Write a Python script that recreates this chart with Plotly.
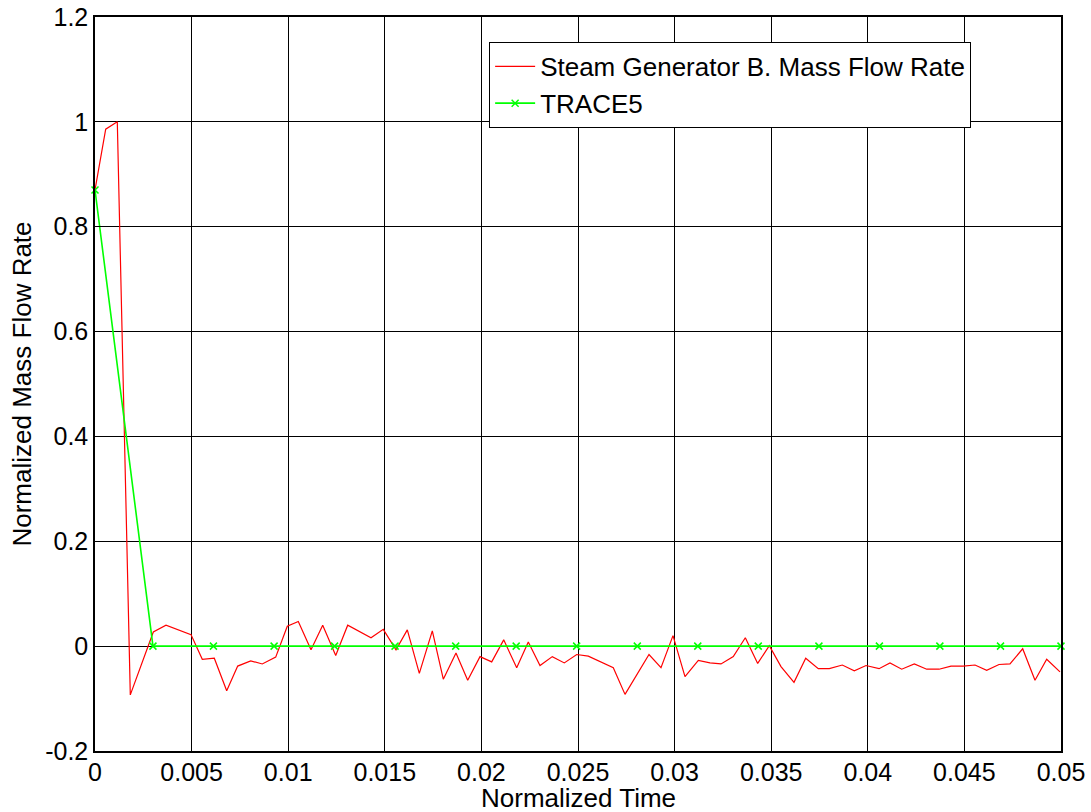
import plotly.graph_objects as go

# Steam generator B: normalized time vs normalized mass flow rate
sg_time = [0.0, 0.000554, 0.001154, 0.001827, 0.003018, 0.003675, 0.004969, 0.005554,
           0.006175, 0.006817, 0.007386, 0.008059, 0.008659, 0.009353, 0.009953, 0.010523,
           0.011180, 0.011786, 0.012459, 0.013080, 0.014286, 0.014922, 0.015580, 0.016165,
           0.016786, 0.017459, 0.018028, 0.018685, 0.019291, 0.019928, 0.020533, 0.021154,
           0.021827, 0.022427, 0.023033, 0.023670, 0.024291, 0.024933, 0.025533, 0.026827,
           0.027433, 0.028675, 0.029296, 0.029917, 0.030538, 0.031227, 0.031832, 0.032402,
           0.033038, 0.033660, 0.034301, 0.034902, 0.035507, 0.036180, 0.036786, 0.037438,
           0.038007, 0.038680, 0.039301, 0.039907, 0.040580, 0.041149, 0.041755, 0.042407,
           0.043049, 0.043685, 0.044306, 0.044943, 0.045549, 0.046154, 0.046791, 0.047360,
           0.048017, 0.048654, 0.049260, 0.049948]
sg_flow = [0.870, 0.986, 1.000, -0.093, 0.027, 0.040, 0.022, -0.025,
           -0.023, -0.085, -0.038, -0.028, -0.034, -0.021, 0.038, 0.047,
           -0.007, 0.040, -0.018, 0.040, 0.016, 0.032, -0.007, 0.031,
           -0.052, 0.029, -0.063, -0.013, -0.065, -0.020, -0.030, 0.012,
           -0.041, 0.008, -0.037, -0.020, -0.032, -0.016, -0.019, -0.041,
           -0.092, -0.016, -0.041, 0.020, -0.058, -0.027, -0.032, -0.034,
           -0.020, 0.016, -0.033, 0.001, -0.039, -0.069, -0.023, -0.043,
           -0.043, -0.036, -0.047, -0.037, -0.043, -0.032, -0.044, -0.034,
           -0.044, -0.044, -0.038, -0.038, -0.036, -0.046, -0.035, -0.034,
           -0.005, -0.065, -0.025, -0.049]

# TRACE5 prediction
trace5_time = [0.0, 0.003, 0.00613, 0.00927, 0.0124, 0.01553, 0.01867, 0.0218, 0.02493,
               0.02807, 0.0312, 0.03433, 0.03747, 0.0406, 0.04373, 0.04687, 0.05]
trace5_flow = [0.87, 0, 0, 0, 0, 0, 0, 0, 0, 0, 0, 0, 0, 0, 0, 0, 0]

x_ticks = [0, 0.005, 0.01, 0.015, 0.02, 0.025, 0.03, 0.035, 0.04, 0.045, 0.05]
x_tick_text = ["0", "0.005", "0.01", "0.015", "0.02", "0.025", "0.03", "0.035", "0.04", "0.045", "0.05"]
y_ticks = [-0.2, 0, 0.2, 0.4, 0.6, 0.8, 1.0, 1.2]
y_tick_text = ["-0.2", "0", "0.2", "0.4", "0.6", "0.8", "1", "1.2"]

FONT = "Liberation Sans, Arial, sans-serif"
FS = 26
TICK_FS = 25

fig = go.Figure()
fig.add_trace(go.Scatter(
    x=sg_time, y=sg_flow, mode="lines",
    name="Steam Generator B. Mass Flow Rate",
    line=dict(color="#ff0000", width=1.2),
))
fig.add_trace(go.Scatter(
    x=trace5_time, y=trace5_flow, mode="lines+markers",
    name="TRACE5",
    line=dict(color="#00ff00", width=1.6),
    marker=dict(symbol="x-thin", size=7, color="#00ff00",
                line=dict(color="#00ff00", width=1.5)),
    cliponaxis=False,
))

axis_common = dict(
    showgrid=True, gridcolor="black", gridwidth=1,
    showline=True, linecolor="black", linewidth=1.5, mirror=True,
    ticks="inside", ticklen=6, tickcolor="black",
    zeroline=False, automargin=False,
    tickfont=dict(family=FONT, size=TICK_FS, color="black"),
)

fig.update_layout(
    width=1091, height=812,
    margin=dict(l=95, r=30, t=17, b=61),
    paper_bgcolor="white", plot_bgcolor="white",
    font=dict(family=FONT, size=FS, color="black"),
    xaxis=dict(range=[0, 0.05], tickvals=x_ticks, ticktext=x_tick_text,
               ticklabelstandoff=-2, **axis_common),
    yaxis=dict(range=[-0.2, 1.2], tickvals=y_ticks, ticktext=y_tick_text,
               title=dict(text="Normalized Mass Flow Rate", standoff=6,
                          font=dict(family=FONT, size=FS, color="black")),
               **axis_common),
    legend=dict(x=0.408, y=0.966, xanchor="left", yanchor="top",
                bgcolor="white", bordercolor="black", borderwidth=1,
                font=dict(family=FONT, size=FS, color="black"),
                itemwidth=40, tracegroupgap=0),
    showlegend=True,
)

# x-axis title sits flush with the bottom edge of the page
fig.add_annotation(
    text="Normalized Time", xref="paper", yref="paper",
    x=0.5, y=-61 / 734, xanchor="center", yanchor="bottom",
    showarrow=False, yshift=-3,
    font=dict(family=FONT, size=FS, color="black"),
)

fig.write_html("out.html")
